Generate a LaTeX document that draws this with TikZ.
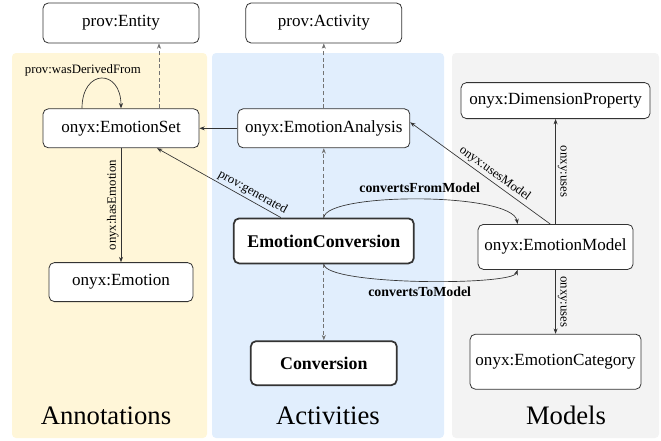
\documentclass[tikz,border=0pt]{standalone}
\usepackage{fontspec}
\setmainfont{Liberation Serif}
\usetikzlibrary{arrows.meta,positioning}
\definecolor{annotYellow}{HTML}{FFF6D8}
\definecolor{actBlue}{HTML}{E1EEFD}
\definecolor{modelGray}{HTML}{F3F3F3}
\tikzset{concept/.style={rectangle,rounded corners=4pt,draw=black!80,fill=white,line width=0.6pt,inner xsep=3pt,font=\fontsize{12.8}{14}\selectfont}}
\tikzset{process/.style={concept,line width=1.3pt,font=\fontsize{13.4}{15}\selectfont\bfseries}}
\tikzset{lane/.style={rounded corners=3pt}}
\tikzset{laneTitle/.style={anchor=base,font=\fontsize{20}{24}\selectfont}}
\tikzset{toArrow/.style={-{Stealth[length=4pt,width=3pt]},draw=black!80,line width=0.5pt}}
\tikzset{fromArrow/.style={{Stealth[length=4pt,width=3pt]}-,draw=black!80,line width=0.5pt}}
\tikzset{typeArrow/.style={toArrow,draw=black!55,dash pattern=on 3pt off 2pt}}
\tikzset{relLabel/.style={font=\fontsize{9.6}{11}\selectfont,inner sep=1.5pt}}
\tikzset{convLabel/.style={font=\fontsize{10.4}{12}\selectfont\bfseries,inner sep=1.5pt}}

\begin{document}
\begin{tikzpicture}[x=0.75pt,y=-0.75pt]
\useasboundingbox (0,0) rectangle (661,440);
\fill [lane,annotYellow] (12,53) rectangle (207,438);
\fill [lane,actBlue] (212,53) rectangle (444,438);
\fill [lane,modelGray] (452,53) rectangle (659,438);
\node (annotTitle) [laneTitle] at (106,424) {Annotations};
\node (actTitle) [laneTitle] at (328,424) {Activities};
\node (modelTitle) [laneTitle] at (566,424) {Models};
\begin{scope}[node distance=10mm]
	\node (entity) [concept, minimum width=117pt, minimum height=30pt] at (121,23) {prov:Entity};
	\node (activity) [concept, minimum width=117pt, minimum height=30pt, right =34.5pt of entity] {prov:Activity};
	\node (set) [concept, minimum width=117pt, minimum height=29.25pt, below =48.75pt of entity] {onyx:EmotionSet};
	\node (analysis) [concept, minimum width=129pt, minimum height=29.25pt, below =48.75pt of activity] {onyx:EmotionAnalysis};
	\node (emotion) [concept, minimum width=108pt, minimum height=29.25pt, below =85.5pt of set] {onyx:Emotion};
	\node (conv) [process, minimum width=135pt, minimum height=33.75pt, below =52pt of analysis] {EmotionConversion};
	\node (conversion) [process, minimum width=109.5pt, minimum height=33pt, below =57pt of conv] {Conversion};
	\node (model) [concept, minimum width=116.25pt, minimum height=33.75pt, right =47.25pt of conv, yshift=-4.5pt] {onyx:EmotionModel};
	\node (dimension) [concept, minimum width=141.75pt, minimum height=27pt, above =78.75pt of model] {onyx:DimensionProperty};
	\node (category) [concept, minimum width=128.25pt, minimum height=41.25pt, below =48pt of model] {onyx:EmotionCategory};
\end{scope}
\draw [typeArrow] ([xshift=28.5pt]set.north) -- ([xshift=28.5pt]entity.south);
\draw [typeArrow] (analysis) -- (activity);
\draw [typeArrow] (conv) -- (analysis);
\draw [typeArrow] (conv) -- (conversion);
\draw [toArrow] (analysis) -- (set);
\draw [toArrow] ([xshift=-29.25pt]set.north) .. controls +(0,30pt) and +(0,30pt) .. (set.north) node [relLabel, pos=0.5, above, xshift=-14pt] {prov:wasDerivedFrom};
\draw [toArrow] (set) -- (emotion) node [relLabel, midway, above, rotate=90] {onyx:hasEmotion};
\draw [fromArrow] ([xshift=27pt]set.south) -- ([xshift=-32.25pt]conv.north) node [relLabel, pos=0.74, sloped, above] {prov:generated};
\draw [fromArrow] ([yshift=4.5pt]analysis.east) -- ([xshift=-4pt]model.north) node [relLabel, pos=0.57, sloped, above] {onyx:usesModel};
\draw [toArrow] (model) -- (dimension) node [relLabel, midway, above, rotate=-90] {onxy:uses};
\draw [toArrow] (model) -- (category) node [relLabel, midway, above, rotate=-90] {onxy:uses};
\draw [toArrow] (conv.north) .. controls +(2pt,19pt) and +(-4pt,24pt) .. ([xshift=-28.5pt]model.north) node [convLabel, pos=0.5, above=3pt] {convertsFromModel};
\draw [toArrow] (conv.south) .. controls +(2pt,-16pt) and +(-4pt,-12pt) .. ([xshift=-28.5pt]model.south) node [convLabel, pos=0.5, below=3pt] {convertsToModel};
\end{tikzpicture}
\end{document}
